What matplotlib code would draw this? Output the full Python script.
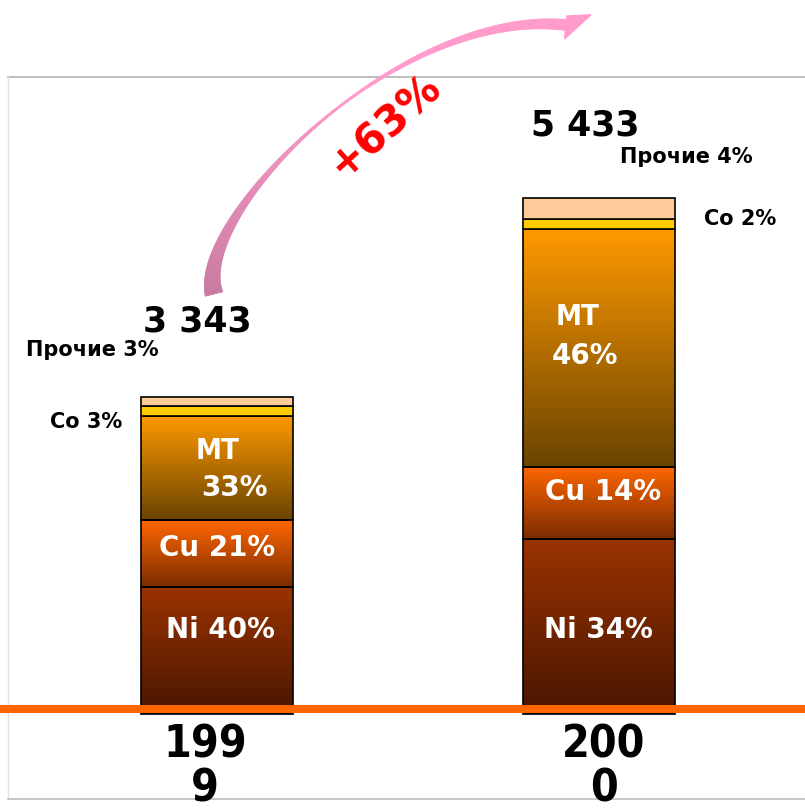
import numpy as np
import matplotlib.pyplot as plt
from matplotlib.colors import to_rgb
from matplotlib.collections import PolyCollection
from matplotlib.patches import Polygon

years = ["1999", "2000"]
totals = [3343, 5433]
metals = ["Ni", "Cu", "MT", "Co", "Прочие"]
shares = [[40, 21, 33, 3, 3],
          [34, 14, 46, 2, 4]]
growth = "+63%"

# colour at top and bottom of each segment (gradient fill)
seg_colors = [("#9a3300", "#4a1600"),
              ("#ff6600", "#7a2c00"),
              ("#ff9900", "#6a4400"),
              ("#ffcc00", "#ffcc00"),
              ("#ffcc99", "#ffcc99")]

plt.rcParams['font.family'] = ['DejaVu Sans']

W, H = 805, 812
fig = plt.figure(figsize=(W / 100, H / 100), dpi=100)
ax = fig.add_axes([0, 0, 1, 1])
base_px = 715
k = 0.0949          # pixels per unit
x0_px, step_px = 217, 381.5
width = 152 / step_px


def gradient_bar(x, bottom, height, top_c, bot_c):
    if top_c == bot_c:
        ax.bar(x, height, width, bottom=bottom, color=top_c,
               edgecolor="black", linewidth=1.2, zorder=2)
        return
    t = np.linspace(0, 1, 200)[:, None]
    c = (1 - t) * np.array(to_rgb(top_c)) + t * np.array(to_rgb(bot_c))
    ax.imshow(c[:, None, :], extent=(x - width / 2, x + width / 2, bottom, bottom + height),
              aspect="auto", origin="upper", zorder=1, interpolation="bilinear")
    ax.bar(x, height, width, bottom=bottom, facecolor="none",
           edgecolor="black", linewidth=1.2, zorder=2)


for i, (tot, sh) in enumerate(zip(totals, shares)):
    vals = np.array(sh) / 100 * tot
    bottoms = np.concatenate([[0], np.cumsum(vals)[:-1]])
    for v, b, (tc, bc) in zip(vals, bottoms, seg_colors):
        gradient_bar(i, b, v, tc, bc)

ax.set_ylim((base_px - H) / k, base_px / k)
ax.set_xlim(-x0_px / step_px, (W - x0_px) / step_px)
ax.axis("off")

# overlay in pixel coordinates for frame, labels and arrow
ov = fig.add_axes([0, 0, 1, 1], facecolor="none")
ov.set_xlim(0, W)
ov.set_ylim(H, 0)
ov.axis("off")

ov.plot([8, W], [78, 78], color="#b4b4b4", lw=1.2, zorder=1)
ov.plot([8, 8], [78, 800], color="#e2e2e2", lw=1.0, zorder=1)
ov.plot([8, W], [800, 800], color="#bcbcbc", lw=1.2, zorder=1)
ov.plot([0, W], [710, 710], color="#ff6600", lw=5.8, solid_capstyle="butt", zorder=5)

# year labels (wrapped as in the original)
for x, y in zip([205, 604], years):
    ov.text(x, 767, y[:3] + "\n" + y[3:], ha="center", va="center", fontsize=32,
            fontweight="bold", fontstretch="condensed", linespacing=1.03, zorder=6)

# totals and small-share labels
tot_pos = [(197, 322), (585, 126)]
oth_pos = [(92, 350), (686, 157)]
co_pos = [(86, 422), (740, 219)]
for i, tot in enumerate(totals):
    ov.text(*tot_pos[i], f"{tot:,}".replace(",", " "), ha="center", va="center",
            fontsize=25, fontweight="bold", zorder=6)
    ov.text(*oth_pos[i], f"{metals[4]} {shares[i][4]}%", ha="center", va="center",
            fontsize=15, fontweight="bold", zorder=6)
    ov.text(*co_pos[i], f"{metals[3]} {shares[i][3]}%", ha="center", va="center",
            fontsize=15, fontweight="bold", zorder=6)

# labels inside bars
ni_pos = [(220, 630), (598, 630)]
cu_pos = [(217, 548), (603, 492)]
mt_pos = [(218, 451), (578, 317)]
mtp_pos = [(234, 488), (585, 356)]
for i in range(2):
    ov.text(*ni_pos[i], f"{metals[0]} {shares[i][0]}%", color="white", ha="center",
            va="center", fontsize=20, fontweight="bold", zorder=6)
    ov.text(*cu_pos[i], f"{metals[1]} {shares[i][1]}%", color="white", ha="center",
            va="center", fontsize=20, fontweight="bold", zorder=6)
    ov.text(*mt_pos[i], metals[2], color="white", ha="center", va="center",
            fontsize=21, fontweight="bold", fontstretch="condensed", zorder=6)
    ov.text(*mtp_pos[i], f"{shares[i][2]}%", color="white", ha="center",
            va="center", fontsize=20, fontweight="bold", zorder=6)

# curved tapered arrow
P = np.array([[214, 295], [192, 215], [400, 8], [566, 26]], float)
t = np.linspace(0, 1, 160)[:, None]
pts = ((1 - t) ** 3 * P[0] + 3 * (1 - t) ** 2 * t * P[1]
       + 3 * (1 - t) * t ** 2 * P[2] + t ** 3 * P[3])
d = np.gradient(pts, axis=0)
d /= np.linalg.norm(d, axis=1)[:, None]
n = np.column_stack([-d[:, 1], d[:, 0]])
tt = t[:, 0]
w = np.where(tt < 0.55, 1.0 + 8 * (1 - tt / 0.55) ** 1.6,
             1.0 + 4.5 * ((tt - 0.55) / 0.45) ** 1.3)
left = pts + n * w[:, None]
right = pts - n * w[:, None]
c0, c1 = np.array(to_rgb("#c67aa0")), np.array(to_rgb("#ff9ccc"))
quads, cols = [], []
for j in range(len(tt) - 1):
    quads.append([left[j], left[j + 1], right[j + 1], right[j]])
    s = min(1, tt[j] / 0.6)
    cols.append((1 - s) * c0 + s * c1)
ov.add_collection(PolyCollection(quads, facecolors=cols, edgecolors=cols,
                                 linewidths=0.6, zorder=4))
end, de, ne = pts[-1], d[-1], n[-1]
ang = np.deg2rad(-28)
rot = np.array([[np.cos(ang), -np.sin(ang)], [np.sin(ang), np.cos(ang)]])
tip = end + rot @ de * 27
ov.add_patch(Polygon([end + ne * 14, tip, end - ne * 9, end], closed=True,
                     facecolor=c1, edgecolor=c1, zorder=4))

ov.text(385, 126, growth, color="#ff0000", rotation=42, ha="center", va="center",
        fontsize=30, fontweight="bold", zorder=6)

fig.savefig("out.png", dpi=100)
